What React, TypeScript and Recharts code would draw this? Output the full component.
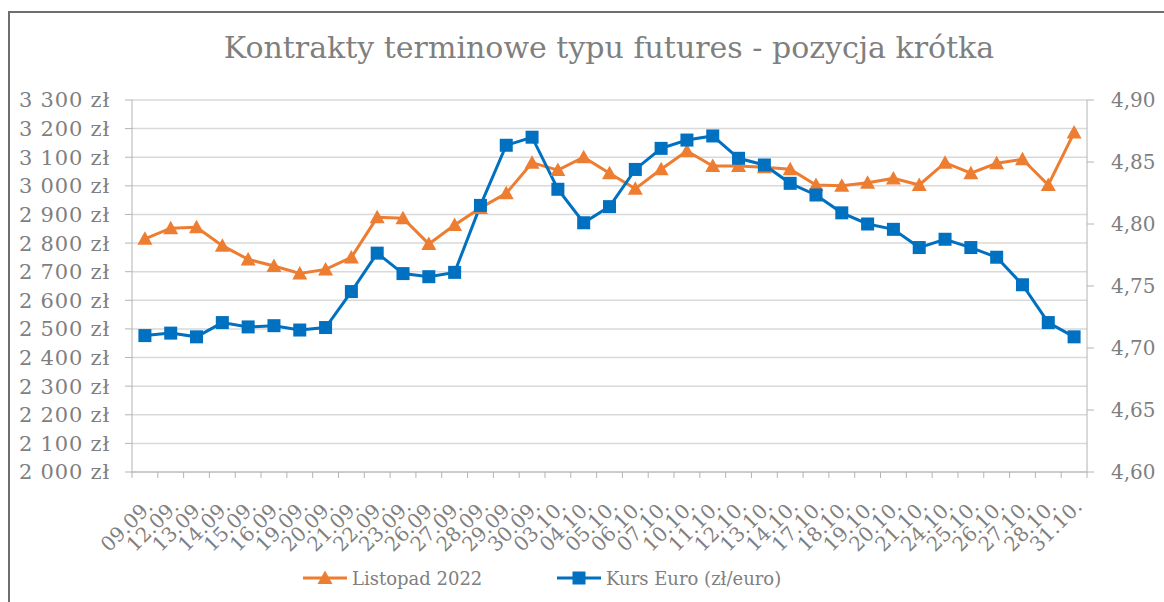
import { LineChart, Line, XAxis, YAxis, CartesianGrid, Legend } from 'recharts'

const dates = [
  '09.09.', '12.09.', '13.09.', '14.09.', '15.09.', '16.09.', '19.09.', '20.09.', '21.09.', '22.09.',
  '23.09.', '26.09.', '27.09.', '28.09.', '29.09.', '30.09.', '03.10.', '04.10.', '05.10.', '06.10.',
  '07.10.', '10.10.', '11.10.', '12.10.', '13.10.', '14.10.', '17.10.', '18.10.', '19.10.', '20.10.',
  '21.10.', '24.10.', '25.10.', '26.10.', '27.10.', '28.10.', '31.10.'
]

const listopad = [
  2815, 2852, 2855, 2791, 2743, 2720, 2694, 2708, 2750, 2890,
  2887, 2797, 2863, 2923, 2974, 3081, 3055, 3100, 3044, 2990,
  3058, 3122, 3069, 3069, 3065, 3058, 3003, 3000, 3011, 3026,
  3003, 3081, 3044, 3079, 3093, 3003, 3186
]

const kurs = [
  4.710, 4.712, 4.709, 4.7205, 4.717, 4.718, 4.7145, 4.7165, 4.7455, 4.7765,
  4.760, 4.7575, 4.761, 4.815, 4.8635, 4.870, 4.828, 4.801, 4.814, 4.844,
  4.861, 4.8677, 4.871, 4.853, 4.8476, 4.8328, 4.8234, 4.809, 4.800, 4.7957,
  4.781, 4.7877, 4.781, 4.7732, 4.751, 4.7205, 4.709
]

const leftTicks = [2000, 2100, 2200, 2300, 2400, 2500, 2600, 2700, 2800, 2900, 3000, 3100, 3200, 3300]
const rightTicks = [4.6, 4.65, 4.7, 4.75, 4.8, 4.85, 4.9]

const data = dates.map((d, i) => ({ date: d, listopad: listopad[i], kurs: kurs[i] }))

const ORANGE = '#ED7D31'
const BLUE = '#0070C0'
const TEXT = '#7f7f7f'
const AXIS = '#b4b4b4'
const FONT = '"DejaVu Serif", Georgia, serif'

const W = 1164
const H = 602
const LEFT_W = 132
const RIGHT_W = 77
const STEP = (W - LEFT_W - RIGHT_W) / dates.length
const TICK_SIZE = 6
const TICK_MARGIN = 29

const fmtLeft = (v: number) => {
  const s = String(v)
  return `${s.slice(0, s.length - 3)} ${s.slice(-3)} zł`
}
const fmtRight = (v: number) => v.toFixed(2).replace('.', ',')

const Triangle = (props: any) => {
  const { cx, cy } = props
  if (cx == null || cy == null) return null
  return <polygon points={`${cx},${cy - 7.5} ${cx - 7.5},${cy + 6} ${cx + 7.5},${cy + 6}`} fill={ORANGE} />
}

const Square = (props: any) => {
  const { cx, cy } = props
  if (cx == null || cy == null) return null
  return <rect x={cx - 6.5} y={cy - 6.5} width={13} height={13} fill={BLUE} />
}

const XTick = (props: any) => {
  const { x, y, payload, index } = props
  const axisY = y - TICK_SIZE - TICK_MARGIN
  return (
    <g>
      <line x1={x - STEP / 2} x2={x - STEP / 2} y1={axisY} y2={axisY + 6} stroke={AXIS} />
      {index === dates.length - 1 && (
        <line x1={x + STEP / 2} x2={x + STEP / 2} y1={axisY} y2={axisY + 6} stroke={AXIS} />
      )}
      <text
        x={x}
        y={y}
        dy="0.35em"
        dx={6}
        textAnchor="end"
        transform={`rotate(-45 ${x} ${y})`}
        fill={TEXT}
        fontSize={20}
        fontFamily={FONT}
      >
        {payload.value}
      </text>
    </g>
  )
}

const LegendBox = () => (
  <div style={{ position: 'relative', width: W, height: 60, fontFamily: FONT, fontSize: 18, color: TEXT }}>
    <div style={{ position: 'absolute', left: 303, top: 25, display: 'flex', alignItems: 'center', whiteSpace: 'nowrap' }}>
      <svg width={44} height={22}>
        <line x1={0} x2={44} y1={11} y2={11} stroke={ORANGE} strokeWidth={3} />
        <polygon points="22,3.5 14.5,17 29.5,17" fill={ORANGE} />
      </svg>
      <span style={{ marginLeft: 5 }}>Listopad 2022</span>
    </div>
    <div style={{ position: 'absolute', left: 557, top: 25, display: 'flex', alignItems: 'center', whiteSpace: 'nowrap' }}>
      <svg width={44} height={22}>
        <line x1={0} x2={44} y1={11} y2={11} stroke={BLUE} strokeWidth={3} />
        <rect x={15.5} y={4.5} width={13} height={13} fill={BLUE} />
      </svg>
      <span style={{ marginLeft: 5 }}>Kurs Euro (zł/euro)</span>
    </div>
  </div>
)

export default function App() {
  return (
    <div style={{ position: 'absolute', left: 0, top: 0, width: W, height: H, background: '#fff', overflow: 'hidden' }}>
      <div
        style={{
          position: 'absolute', left: 8, top: 11, width: W, height: H,
          borderLeft: '2px solid #6e6e6e', borderTop: '2px solid #6e6e6e'
        }}
      />
      <div
        style={{
          position: 'absolute', left: 609, top: 31, transform: 'translateX(-50%)',
          whiteSpace: 'nowrap', fontFamily: FONT, fontSize: 30, color: TEXT, lineHeight: '34px'
        }}
      >
        Kontrakty terminowe typu futures - pozycja krótka
      </div>
      <LineChart width={W} height={H} data={data} margin={{ top: 100, right: 0, bottom: 0, left: 0 }}>
        <CartesianGrid yAxisId="left" vertical={false} stroke="#d9d9d9" strokeWidth={1.5} />
        <XAxis
          dataKey="date"
          interval={0}
          padding={{ left: STEP / 2, right: STEP / 2 }}
          tickLine={false}
          tickSize={TICK_SIZE}
          tickMargin={TICK_MARGIN}
          height={70}
          stroke={AXIS}
          tick={<XTick />}
        />
        <YAxis
          yAxisId="left"
          orientation="left"
          domain={[2000, 3300]}
          ticks={leftTicks}
          interval={0}
          width={LEFT_W}
          tickFormatter={fmtLeft}
          stroke={AXIS}
          tickSize={7}
          tickMargin={15}
          tick={{ fill: TEXT, fontSize: 21, fontFamily: FONT, letterSpacing: 0.8 }}
          allowDataOverflow
        />
        <YAxis
          yAxisId="right"
          orientation="right"
          domain={[4.6, 4.9]}
          ticks={rightTicks}
          interval={0}
          width={RIGHT_W}
          tickFormatter={fmtRight}
          stroke={AXIS}
          tickSize={7}
          tickMargin={17}
          tick={{ fill: TEXT, fontSize: 20, fontFamily: FONT }}
          allowDataOverflow
        />
        <Legend
          verticalAlign="bottom"
          align="left"
          wrapperStyle={{ left: 0, bottom: 0, width: W, height: 60 }}
          content={() => <LegendBox />}
        />
        <Line
          yAxisId="left"
          dataKey="listopad"
          name="Listopad 2022"
          stroke={ORANGE}
          strokeWidth={3}
          dot={<Triangle />}
          activeDot={false}
          isAnimationActive={false}
        />
        <Line
          yAxisId="right"
          dataKey="kurs"
          name="Kurs Euro (zł/euro)"
          stroke={BLUE}
          strokeWidth={3}
          dot={<Square />}
          activeDot={false}
          isAnimationActive={false}
        />
      </LineChart>
    </div>
  )
}
